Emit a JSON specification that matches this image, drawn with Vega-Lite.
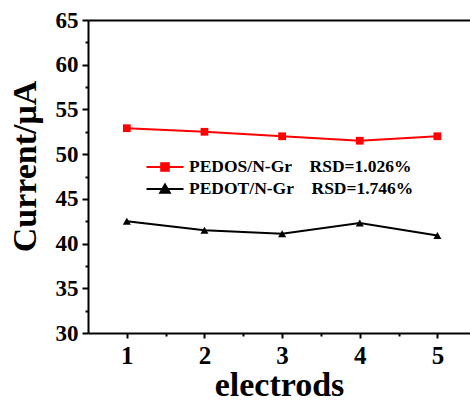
{
  "$schema": "https://vega.github.io/schema/vega-lite/v6.json",
  "width": 382,
  "height": 313,
  "autosize": "none",
  "padding": {"left": 88, "top": 20, "right": 0, "bottom": 68},
  "background": "white",
  "config": {"view": {"stroke": null}, "font": "Liberation Serif"},
  "data": {"values": [
    {"electrode": 1, "current": 52.9, "series": "PEDOS/N-Gr\u00a0\u00a0\u00a0\u00a0RSD=1.026%"},
    {"electrode": 2, "current": 52.5, "series": "PEDOS/N-Gr\u00a0\u00a0\u00a0\u00a0RSD=1.026%"},
    {"electrode": 3, "current": 52.0, "series": "PEDOS/N-Gr\u00a0\u00a0\u00a0\u00a0RSD=1.026%"},
    {"electrode": 4, "current": 51.5, "series": "PEDOS/N-Gr\u00a0\u00a0\u00a0\u00a0RSD=1.026%"},
    {"electrode": 5, "current": 52.0, "series": "PEDOS/N-Gr\u00a0\u00a0\u00a0\u00a0RSD=1.026%"},
    {"electrode": 1, "current": 42.5, "series": "PEDOT/N-Gr\u00a0\u00a0\u00a0\u00a0RSD=1.746%"},
    {"electrode": 2, "current": 41.5, "series": "PEDOT/N-Gr\u00a0\u00a0\u00a0\u00a0RSD=1.746%"},
    {"electrode": 3, "current": 41.1, "series": "PEDOT/N-Gr\u00a0\u00a0\u00a0\u00a0RSD=1.746%"},
    {"electrode": 4, "current": 42.3, "series": "PEDOT/N-Gr\u00a0\u00a0\u00a0\u00a0RSD=1.746%"},
    {"electrode": 5, "current": 40.9, "series": "PEDOT/N-Gr\u00a0\u00a0\u00a0\u00a0RSD=1.746%"}
  ]},
  "layer": [
    {
      "mark": {"type": "line", "strokeWidth": 2},
      "encoding": {
        "x": {"field": "electrode", "type": "quantitative",
          "scale": {"domain": [0.5, 5.42], "nice": false, "zero": false},
          "axis": {"orient": "bottom", "values": [1, 2, 3, 4, 5], "format": "d", "grid": false,
            "domainColor": "black", "domainWidth": 2, "tickColor": "black", "tickWidth": 2, "tickSize": 5,
            "labelFont": "Liberation Serif", "labelFontWeight": "bold", "labelFontSize": 25, "labelColor": "black", "labelPadding": 5,
            "title": "electrods", "titleFont": "Liberation Serif", "titleFontWeight": "bold", "titleFontSize": 34, "titleColor": "black", "titlePadding": 0}},
        "y": {"field": "current", "type": "quantitative",
          "scale": {"domain": [30, 65], "nice": false, "zero": false},
          "axis": {"orient": "left", "values": [30, 35, 40, 45, 50, 55, 60, 65], "grid": false,
            "domainColor": "black", "domainWidth": 2, "tickColor": "black", "tickWidth": 2, "tickSize": 6,
            "labelFont": "Liberation Serif", "labelFontWeight": "bold", "labelFontSize": 23, "labelColor": "black", "labelPadding": 4,
            "title": "Current/μA", "titleFont": "Liberation Serif", "titleFontWeight": "bold", "titleFontSize": 34, "titleColor": "black", "titlePadding": 13, "titleY": 146}},
        "color": {"field": "series", "type": "nominal",
          "scale": {"domain": ["PEDOS/N-Gr\u00a0\u00a0\u00a0\u00a0RSD=1.026%", "PEDOT/N-Gr\u00a0\u00a0\u00a0\u00a0RSD=1.746%"], "range": ["#ff0000", "#000000"]},
          "legend": {"orient": "none", "legendX": 66, "legendY": 136, "padding": 0, "title": null,
            "symbolSize": 400, "symbolStrokeWidth": 2, "rowPadding": 2, "labelOffset": 13, "labelLimit": 400,
            "labelFont": "Liberation Serif", "labelFontWeight": "bold", "labelFontSize": 17.5, "labelColor": "black",
            "encode": {"symbols": {"update": {
              "shape": {"signal": "indexof(datum.value, 'PEDOS') >= 0 ? 'M-1.85,0H1.85M-0.38,-0.38H0.38V0.38H-0.38Z' : 'M-1.85,0H1.85M0,-0.45L0.48,0.38H-0.48Z'"},
              "fill": {"signal": "indexof(datum.value, 'PEDOS') >= 0 ? '#ff0000' : '#000000'"},
              "stroke": {"signal": "indexof(datum.value, 'PEDOS') >= 0 ? '#ff0000' : '#000000'"},
              "strokeWidth": {"value": 2},
              "opacity": {"value": 1},
              "fillOpacity": {"value": 1}
            }}}}}
      }
    },
    {
      "transform": [{"filter": "indexof(datum.series, 'PEDOS') >= 0"}],
      "mark": {"type": "point", "filled": true, "opacity": 1, "shape": "square", "size": 60, "color": "#ff0000"},
      "encoding": {
        "x": {"field": "electrode", "type": "quantitative",
          "axis": {"orient": "bottom", "values": [1.5, 2.5, 3.5, 4.5], "labels": false, "domain": false, "grid": false,
            "tickColor": "black", "tickWidth": 2, "tickSize": 3, "title": null}},
        "y": {"field": "current", "type": "quantitative",
          "axis": {"orient": "left", "values": [32.5, 37.5, 42.5, 47.5, 52.5, 57.5, 62.5], "labels": false, "domain": false, "grid": false,
            "tickColor": "black", "tickWidth": 2, "tickSize": 3, "title": null}}
      }
    },
    {
      "transform": [{"filter": "indexof(datum.series, 'PEDOT') >= 0"}],
      "mark": {"type": "point", "filled": true, "opacity": 1, "shape": "triangle-up", "size": 65, "color": "#000000"},
      "encoding": {
        "x": {"field": "electrode", "type": "quantitative",
          "axis": {"orient": "top", "labels": false, "ticks": false, "grid": false, "domainColor": "black", "domainWidth": 2, "title": null}},
        "y": {"field": "current", "type": "quantitative", "axis": null}
      }
    }
  ],
  "resolve": {"axis": {"x": "independent", "y": "independent"}}
}
